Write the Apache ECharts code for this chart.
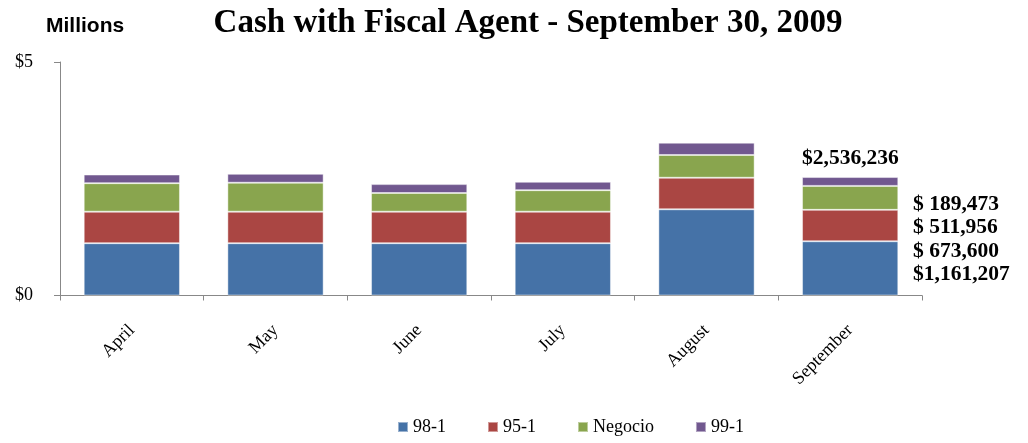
<!DOCTYPE html>
<html><head><meta charset="utf-8">
<script src="https://cdn.jsdelivr.net/npm/echarts@6/dist/echarts.min.js"></script>
<style>html,body{margin:0;padding:0;background:#fff}#c{width:1028px;height:443px}</style>
</head><body><div id="c"></div>
<script>
const months = ['April','May','June','July','August','September'];
const s981 = [1.12, 1.12, 1.12, 1.12, 1.846, 1.161207];
const s951 = [0.675, 0.675, 0.675, 0.675, 0.676, 0.6736];
const negocio = [0.61, 0.62, 0.40, 0.46, 0.487, 0.511956];
const s991 = [0.185, 0.19, 0.19, 0.18, 0.263, 0.189473];
const seriesNames = ['98-1','95-1','Negocio','99-1'];
const colors = ['#4572A7','#AA4643','#89A54E','#71588F'];
const serif = '"Liberation Serif","Times New Roman",serif';

function fmt(v){ return Math.round(v*1e6).toLocaleString('en-US'); }
const last = months.length-1;
const total = s981[last]+s951[last]+negocio[last]+s991[last];
const annFont = 'bold 21.5px "Liberation Serif","Times New Roman",serif';

const chart = echarts.init(document.getElementById('c'));
const data = [s981, s951, negocio, s991];
chart.setOption({
  animation:false,
  title:{text:'Cash with Fiscal Agent - September 30, 2009', left:523, textAlign:'center', top:2,
    textStyle:{fontFamily:serif, fontWeight:'bold', fontSize:33, color:'#000'}},
  legend:{bottom:2, left:392, itemWidth:10, itemHeight:10, itemGap:41, icon:'rect',
    textStyle:{fontFamily:serif, fontSize:18, color:'#000'}, data:seriesNames},
  grid:{left:60, right:106, top:62, bottom:147.5},
  xAxis:{type:'category', data:months,
    axisLine:{lineStyle:{color:'#888'}},
    axisTick:{show:true, alignWithLabel:false, length:5, lineStyle:{color:'#888'}},
    axisLabel:{rotate:45, margin:32, fontFamily:serif, fontSize:18, color:'#000'}},
  yAxis:{type:'value', min:0, max:5, interval:5,
    splitLine:{show:false},
    axisLine:{show:true, lineStyle:{color:'#888'}},
    axisTick:{show:true, length:6, lineStyle:{color:'#888'}},
    axisLabel:{formatter:v=>'$'+v, fontFamily:serif, fontSize:18, color:'#000', margin:27}},
  series: data.map((d,i)=>({
    name:seriesNames[i], type:'bar', stack:'a', data:d, barCategoryGap:'33%',
    itemStyle:{color:colors[i], borderColor:'rgba(255,255,255,0.45)', borderWidth:1}
  })),
  graphic:[
    {type:'text', left:46, top:16, style:{text:'Millions', font:'bold 21px "Liberation Sans",Arial,sans-serif', fill:'#000'}},
    {type:'text', left:802, top:147, style:{text:'$'+fmt(total), font:annFont, fill:'#000'}},
    {type:'text', left:913, top:193, style:{text:'$ '+fmt(s991[last]), font:annFont, fill:'#000'}},
    {type:'text', left:913, top:216, style:{text:'$ '+fmt(negocio[last]), font:annFont, fill:'#000'}},
    {type:'text', left:913, top:240, style:{text:'$ '+fmt(s951[last]), font:annFont, fill:'#000'}},
    {type:'text', left:913, top:263, style:{text:'$'+fmt(s981[last]), font:annFont, fill:'#000'}}
  ]
});
</script></body></html>
